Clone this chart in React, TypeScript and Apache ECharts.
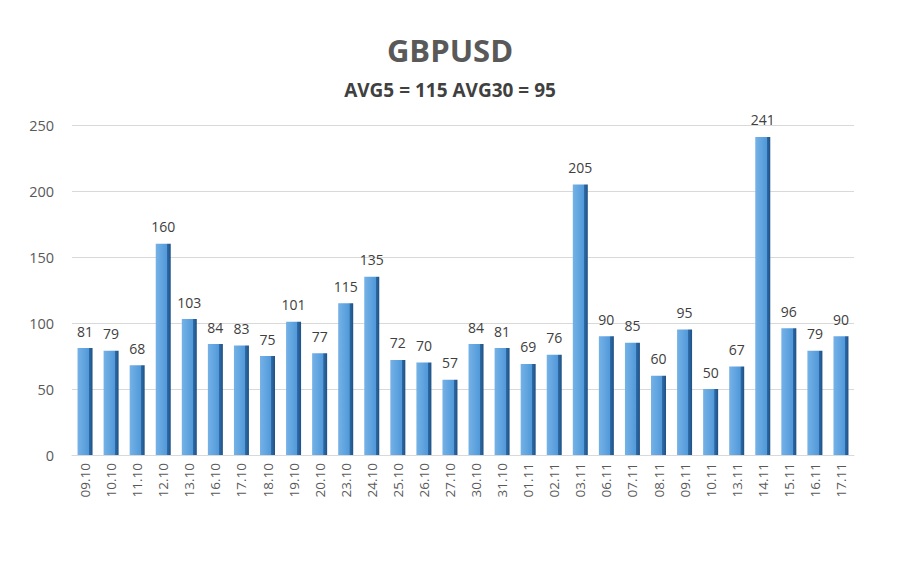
import React, { useEffect, useRef } from "react";
import * as echarts from "echarts";

const categories = ["09.10","10.10","11.10","12.10","13.10","16.10","17.10","18.10","19.10","20.10","23.10","24.10","25.10","26.10","27.10","30.10","31.10","01.11","02.11","03.11","06.11","07.11","08.11","09.11","10.11","13.11","14.11","15.11","16.11","17.11"];
const values = [81,79,68,160,103,84,83,75,101,77,115,135,72,70,57,84,81,69,76,205,90,85,60,95,50,67,241,96,79,90];
const titleText = "GBPUSD";
const subtitleText = "AVG5 = 115 AVG30 = 95";

export default function App() {
  const ref = useRef<HTMLDivElement>(null);
  useEffect(() => {
    const chart = echarts.init(ref.current!, null, { renderer: "svg" });
    chart.setOption({
      animation: false,
      backgroundColor: "#ffffff",
      title: [
        { text: titleText, left: "center", top: 27, textStyle: { fontFamily: "Open Sans", fontSize: 31, fontWeight: "bold", color: "#595959" } },
        { text: subtitleText, left: "center", top: 73, textStyle: { fontFamily: "Open Sans", fontSize: 19, fontWeight: "bold", color: "#404040" } },
      ],
      grid: { left: 70, right: 44, top: 123, bottom: 105 },
      xAxis: {
        type: "category",
        data: categories,
        axisLine: { show: true, lineStyle: { color: "#d9d9d9" } },
        axisTick: { show: false },
        axisLabel: { rotate: 90, color: "#595959", fontFamily: "Open Sans", fontSize: 13.5, margin: 8 },
      },
      yAxis: {
        type: "value",
        min: 0,
        max: 250,
        interval: 50,
        axisLine: { show: false },
        axisTick: { show: false },
        axisLabel: { color: "#595959", fontFamily: "Open Sans", fontSize: 14.5, margin: 18 },
        splitLine: { lineStyle: { color: "#d9d9d9", width: 1 } },
      },
      series: [
        {
          type: "bar",
          data: values,
          barWidth: 15,
          itemStyle: {
            color: new echarts.graphic.LinearGradient(0, 0, 1, 0, [
              { offset: 0, color: "#75b2e6" },
              { offset: 0.75, color: "#5199da" },
              { offset: 0.76, color: "#2f6ba6" },
              { offset: 1, color: "#1f5185" },
            ]),
          },
          label: { show: true, position: "top", distance: 10, color: "#404040", fontFamily: "Open Sans", fontSize: 14, fontWeight: "normal" },
        },
      ],
    });
    return () => chart.dispose();
  }, []);
  return (
    <div style={{ width: 896, height: 558, border: "2px solid #cccccc", margin: -8, boxSizing: "content-box" }}>
      <div ref={ref} style={{ width: 896, height: 558 }} />
    </div>
  );
}
